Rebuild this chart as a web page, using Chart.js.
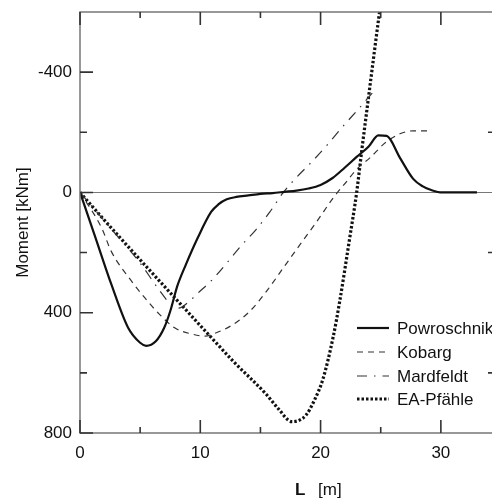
<!DOCTYPE html>
<html>
<head>
<meta charset="utf-8">
<script src="https://cdn.jsdelivr.net/npm/chart.js@4.4.1/dist/chart.umd.min.js"></script>
<style>
  html, body { margin: 0; padding: 0; background: #fff; overflow: hidden; }
  canvas { display: block; }
</style>
</head>
<body>
<canvas id="myChart" width="510" height="500"></canvas>
<script>
// moment along the pile, L [m] vs Moment [kNm] (y axis reversed)
const xTicks = [0, 10, 20, 30]
const xMinor = [5, 15, 25]
const yTicks = [-400, 0, 400, 800]
const yMinor = [-200, 200, 600]

const powX = [0, 1.2, 2.6, 4, 5, 5.5, 6.3, 7, 7.5, 8.1, 8.8, 9.8, 10.9, 11.5, 12.2, 13, 14, 15, 16, 17, 18, 19, 20, 21, 22, 23, 24, 24.8, 25.5, 26.6, 27.7, 28.5, 29.2, 30.1, 33]
const powY = [0, 140, 305, 450, 500, 510, 495, 450, 395, 310, 240, 150, 65, 40, 23, 15, 10, 5, 2, -2, -6, -13, -25, -48, -82, -118, -153, -190, -188, -115, -45, -20, -8, 0, 0]

const kobX = [0, 1.8, 2.6, 4.3, 5.4, 6.5, 7.9, 9.2, 10.4, 11.1, 12.7, 14.1, 15.5, 16.9, 18.3, 19.7, 21.05, 22.2, 23, 24.1, 25.4, 26.6, 27.7, 29.1]
const kobY = [0, 118, 196, 296, 351, 401, 451, 470, 478, 470, 440, 396, 329, 251, 173, 96, 18, -38, -77, -115, -166, -195, -205, -205]

const marX = [0, 1.5, 3, 5, 6.5, 7.5, 8.2, 9, 9.8, 11, 12.3, 13.4, 14.6, 15.8, 16.9, 18, 19.3, 20.6, 21.8, 23.1, 24.5]
const marY = [0, 70, 140, 235, 320, 370, 385, 365, 335, 290, 230, 177, 125, 64, 0, -50, -103, -160, -217, -275, -340]

const eaX = [0, 2.6, 6.8, 11.2, 12.75, 15.5, 16.5, 17.6, 18.2, 18.8, 19.5, 20.2, 21.05, 21.6, 22.4, 23, 23.4, 24, 24.5, 24.9, 25.1]
const eaY = [0, 118, 303, 495, 562, 672, 720, 762, 758, 740, 690, 620, 480, 360, 157, 0, -132, -321, -477, -600, -660]

const seriesNames = ['Powroschnik', 'Kobarg', 'Mardfeldt', 'EA-Pfähle']

const FONT = '"Liberation Sans", Arial, sans-serif'

function pts(xs, ys){
    return xs.map((x, i) => ({x, y: ys[i]}))
}

const frame = {
    id: 'frame',
    beforeDatasetsDraw(chart){
        const {ctx, chartArea: a, scales: {y}} = chart
        ctx.save()
        // zero line
        ctx.strokeStyle = '#777'
        ctx.lineWidth = 1
        ctx.beginPath()
        ctx.moveTo(a.left, Math.round(y.getPixelForValue(0)) + 0.5)
        ctx.lineTo(a.right, Math.round(y.getPixelForValue(0)) + 0.5)
        ctx.stroke()
        ctx.restore()
    },
    afterDraw(chart){
        const {ctx, chartArea: a, scales: {x, y}} = chart
        ctx.save()
        // border
        ctx.strokeStyle = '#777'
        ctx.lineWidth = 1.5
        ctx.beginPath()
        ctx.moveTo(a.right, a.top)
        ctx.lineTo(a.left, a.top)
        ctx.lineTo(a.left, a.bottom)
        ctx.lineTo(a.right, a.bottom)
        ctx.lineTo(a.right, a.top)
        ctx.stroke()
        // inward ticks
        ctx.strokeStyle = '#333'
        ctx.lineWidth = 1.6
        ctx.beginPath()
        xTicks.forEach(v => {
            const px = x.getPixelForValue(v)
            ctx.moveTo(px, a.bottom); ctx.lineTo(px, a.bottom - 13)
            ctx.moveTo(px, a.top); ctx.lineTo(px, a.top + 13)
        })
        xMinor.forEach(v => {
            const px = x.getPixelForValue(v)
            ctx.moveTo(px, a.bottom); ctx.lineTo(px, a.bottom - 6)
            ctx.moveTo(px, a.top); ctx.lineTo(px, a.top + 6)
        })
        yTicks.forEach(v => {
            const py = y.getPixelForValue(v)
            ctx.moveTo(a.left, py); ctx.lineTo(a.left + 13, py)
        })
        yMinor.forEach(v => {
            const py = y.getPixelForValue(v)
            ctx.moveTo(a.left, py); ctx.lineTo(a.left + 7, py)
            ctx.moveTo(a.right, py); ctx.lineTo(a.right - 7, py)
        })
        ctx.stroke()

        // axis titles
        ctx.fillStyle = '#111'
        ctx.font = `17px ${FONT}`
        ctx.save()
        ctx.translate(23, (a.top + a.bottom) / 2)
        ctx.rotate(-Math.PI / 2)
        ctx.textAlign = 'center'
        ctx.textBaseline = 'middle'
        ctx.fillText('Moment [kNm]', 0, 0)
        ctx.restore()
        ctx.textAlign = 'left'
        ctx.textBaseline = 'alphabetic'
        ctx.font = `bold 17px ${FONT}`
        ctx.fillText('L', 295, 495)
        ctx.font = `17px ${FONT}`
        ctx.fillText('[m]', 318, 495)

        // legend inside the plot
        const rows = [328, 352, 376, 399]
        chart.data.datasets.forEach((ds, i) => {
            const ry = rows[i]
            ctx.save()
            ctx.strokeStyle = ds.borderColor
            ctx.lineWidth = ds.borderWidth
            ctx.setLineDash(ds.borderDash || [])
            ctx.beginPath()
            ctx.moveTo(357, ry)
            ctx.lineTo(389, ry)
            ctx.stroke()
            ctx.restore()
            ctx.fillStyle = '#111'
            ctx.textBaseline = 'middle'
            ctx.fillText(ds.label, 397, ry + 1)
        })
        ctx.restore()
    }
}

const ctx = document.getElementById('myChart')

new Chart(ctx, {
    type: 'line',
    data: {
        datasets: [{
            label: seriesNames[0],
            data: pts(powX, powY),
            borderColor: '#111',
            borderWidth: 2.2
        }, {
            label: seriesNames[1],
            data: pts(kobX, kobY),
            borderColor: '#333',
            borderWidth: 1.2,
            borderDash: [6, 5]
        }, {
            label: seriesNames[2],
            data: pts(marX, marY),
            borderColor: '#333',
            borderWidth: 1.2,
            borderDash: [10, 7, 1.5, 7]
        }, {
            label: seriesNames[3],
            data: pts(eaX, eaY),
            borderColor: '#111',
            borderWidth: 3.2,
            borderDash: [2.5, 2]
        }]
    },
    options: {
        responsive: false,
        animation: false,
        layout: {padding: {left: 0, top: 12, right: 15, bottom: 0}},
        elements: {
            point: {radius: 0},
            line: {cubicInterpolationMode: 'monotone', fill: false}
        },
        scales: {
            x: {
                type: 'linear',
                min: 0,
                max: 34.5,
                grid: {display: false, drawTicks: false},
                border: {display: false},
                afterBuildTicks: s => { s.ticks = xTicks.map(v => ({value: v})) },
                afterFit: s => { s.height = 67; s.paddingLeft = 0; s.paddingRight = 0 },
                ticks: {
                    padding: 10,
                    color: '#111',
                    font: {family: FONT, size: 17},
                    maxRotation: 0
                }
            },
            y: {
                type: 'linear',
                reverse: true,
                min: -600,
                max: 800,
                grid: {display: false, drawTicks: false},
                border: {display: false},
                afterBuildTicks: s => { s.ticks = yTicks.map(v => ({value: v})) },
                afterFit: s => { s.width = 80; s.paddingTop = 0; s.paddingBottom = 0 },
                ticks: {
                    padding: 8,
                    color: '#111',
                    font: {family: FONT, size: 17}
                }
            }
        },
        plugins: {
            legend: {display: false},
            tooltip: {enabled: false}
        }
    },
    plugins: [frame]
})
</script>
</body>
</html>
